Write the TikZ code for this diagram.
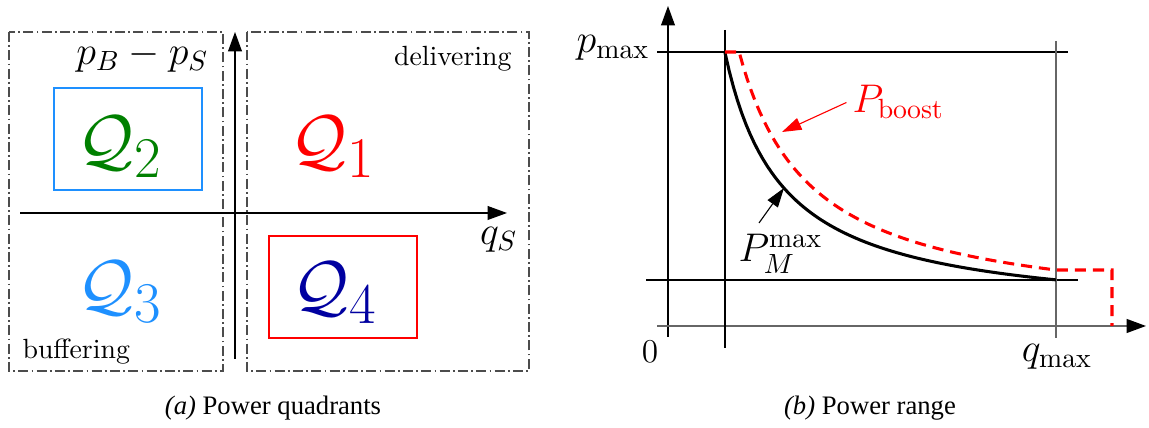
\documentclass[tikz,border=0pt]{standalone}
\usepackage{amsmath,amssymb}
\usepackage{fontspec}
\newfontfamily\capfont{Liberation Serif}
\usepackage{tikz}
\usetikzlibrary{arrows.meta,positioning}
\definecolor{qgreen}{RGB}{0,128,0}
\definecolor{qblue}{RGB}{30,144,255}
\definecolor{qnavy}{RGB}{0,0,160}
\tikzset{
	axis/.style={-{Triangle[length=7pt,width=5pt]}},
	regionbox/.style={draw=black!70,line width=0.6pt,dash pattern=on 3.6pt off 1.2pt on 0.6pt off 1.2pt},
	lbl/.style={inner sep=0pt},
	mathlbl/.style={inner sep=0pt,font=\Large},
	quadlbl/.style={inner sep=0pt,font=\Huge},
	boostline/.style={red,line width=1.1pt,dash pattern=on 4pt off 2.5pt},
	pointer/.style={-{Triangle[length=7pt,width=4.5pt]}}
}

\begin{document}
\begin{tikzpicture}[x=0.36pt,y=-0.36pt]
	\useasboundingbox (0,0) rectangle (1149,428);
	
	% (a) power quadrants
	\draw[regionbox] (9,32) rectangle (223,371);
	\draw[regionbox] (247,32) rectangle (529,371);
	\draw[qblue,line width=0.8pt] (54,88) rectangle (202,190);
	\draw[red,line width=0.8pt] (269,236) rectangle (417,338);
	
	\coordinate (qsl) at (20,213);
	\coordinate (qsr) at (507,213);
	\coordinate (pdb) at (235,359);
	\coordinate (pdt) at (235,32);
	\draw[axis] (qsl) -- (qsr);
	\draw[axis] (pdb) -- (pdt);
	
	\node[quadlbl,text=red] (quad1) at (333,147) {$\mathcal{Q}_1$};
	\node[quadlbl,text=qgreen] (quad2) at (120,147) {$\mathcal{Q}_2$};
	\node[quadlbl,text=qblue] (quad3) at (120,292) {$\mathcal{Q}_3$};
	\node[quadlbl,text=qnavy] (quad4) at (335,293) {$\mathcal{Q}_4$};
	
	\node[mathlbl,anchor=base east] (pdiff) at (209,65) {$p_B-p_S$};
	\node[mathlbl,anchor=base east] (qs) at (518,245) {$q_S$};
	\node[lbl,anchor=base east] (deliv) at (512,66) {delivering};
	\node[lbl,anchor=base west] (buff) at (22,359) {buffering};
	
	% (b) power range
	\coordinate (yb) at (668,337);
	\coordinate (yt) at (668,6);
	\coordinate (xl) at (657,326);
	\coordinate (xr) at (1146,326);
	\draw[axis] (yb) -- (yt);
	\draw[black!60,line width=0.6pt,-{Triangle[length=7pt,width=5pt,color=black]}] (xl) -- (xr);
	
	\draw (657,52) -- (1068,52);
	\draw (646,280) -- (1078,280);
	\draw (725,30) -- (725,348);
	\draw[black!60] (1056,41) -- (1056,338);
	
	\draw[line width=1.1pt] plot[domain=725:1056,samples=80] (\x,{319-151.8/((\x-668)/100)});
	\draw[boostline] (725,52) -- (739,52) -- plot[domain=739:1056,samples=80] (\x,{319-190/((\x-668)/100)}) -- (1112,270) -- (1112,326);
	
	\node[mathlbl,anchor=base east] (pmax) at (650,53) {$p_{\mathrm{max}}$};
	\node[lbl,font=\large] (zero) at (650,352) {$0$};
	\node[mathlbl,anchor=base] (qmax) at (1057,362) {$q_{\mathrm{max}}$};
	\node[mathlbl,anchor=base west,text=red] (pboost) at (852,113) {$P_{\mathrm{boost}}$};
	\node[mathlbl,anchor=base west] (pmm) at (738,262) {$P_M^{\mathrm{max}}$};
	
	\coordinate (boosttip) at (782,132);
	\coordinate (mtail) at (759,223);
	\coordinate (mtip) at (784,188);
	\draw[red,pointer] ([xshift=-2pt]pboost.west) -- (boosttip);
	\draw[pointer] (mtail) -- (mtip);
	
	\node[lbl,anchor=base,font=\capfont\fontsize{9.6}{11}\selectfont] (capa) at (273,415) {\textit{(a)} Power quadrants};
	\node[lbl,anchor=base,font=\capfont\fontsize{9.6}{11}\selectfont] (capb) at (870,415) {\textit{(b)} Power range};
	
\end{tikzpicture}
\end{document}
